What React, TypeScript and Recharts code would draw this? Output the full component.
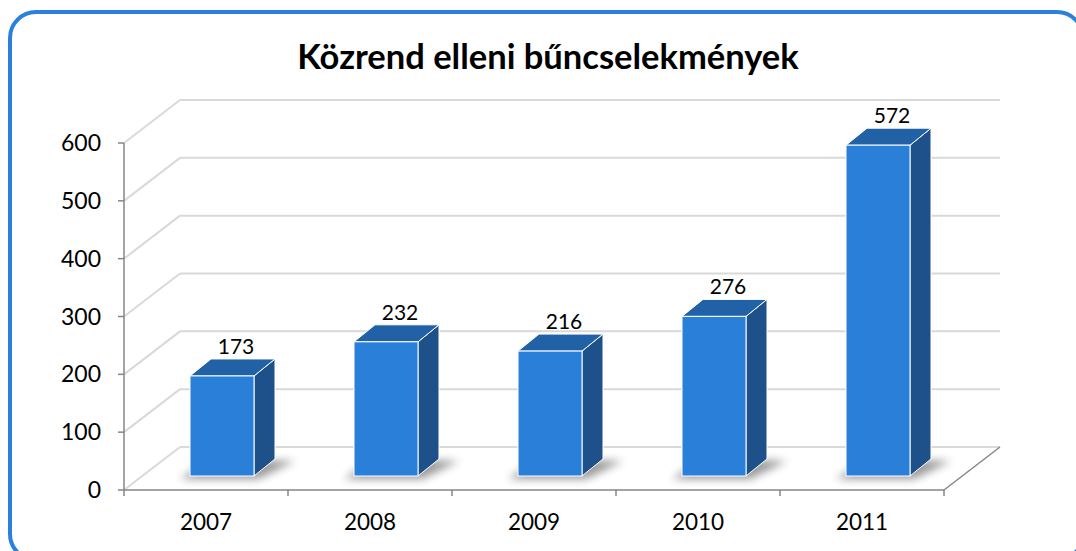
import { BarChart, Bar, XAxis, YAxis, CartesianGrid } from 'recharts';

const years = ['2007', '2008', '2009', '2010', '2011'];
const crimes = [173, 232, 216, 276, 572];
const yTicks = [0, 100, 200, 300, 400, 500, 600];

const data = years.map((year, i) => ({ year, value: crimes[i] }));

// back wall offset (front plane -> back plane)
const WALL_DX = 56;
const WALL_DY = 43;
// bars sit a little behind the front plane
const BAR_SHIFT_X = 16;
const BAR_SHIFT_Y = -14;
// box depth
const BOX_DX = 21;
const BOX_DY = 17;

const FONT = 'Lato, "Open Sans", sans-serif';
const GRID = '#d9d9d9';
const AXIS = '#868686';

const wallLine = (p: any) => {
  const { x1, x2, y1 } = p;
  const bottom = p.y != null && p.height != null ? p.y + p.height : null;
  const isFloor = bottom != null ? Math.abs(y1 - bottom) < 1 : p.index === 0;
  return (
    <g key={p.key ?? `wall-${p.index}`}>
      <line x1={x1} y1={y1} x2={x1 + WALL_DX} y2={y1 - WALL_DY} stroke={GRID} strokeWidth={2} />
      <line
        x1={x1 + WALL_DX}
        y1={y1 - WALL_DY}
        x2={x2 + WALL_DX}
        y2={y1 - WALL_DY}
        stroke={GRID}
        strokeWidth={2}
      />
      {isFloor && (
        <line x1={x2} y1={y1} x2={x2 + WALL_DX} y2={y1 - WALL_DY} stroke={AXIS} strokeWidth={1.5} />
      )}
    </g>
  );
};

const YearTick = (props: any) => {
  const { x, y, payload, width, visibleTicksCount, index } = props;
  const bw = width / visibleTicksCount;
  const left = x - bw / 2;
  const right = x + bw / 2;
  return (
    <g>
      <line x1={left} y1={y} x2={left} y2={y + 6} stroke={AXIS} strokeWidth={1.5} />
      {index === visibleTicksCount - 1 && (
        <line x1={right} y1={y} x2={right} y2={y + 6} stroke={AXIS} strokeWidth={1.5} />
      )}
      <text x={x} y={y + 40} textAnchor="middle" fill="#000" fontSize={22.5} fontFamily={FONT}>
        {payload.value}
      </text>
    </g>
  );
};

const Box3D = (props: any) => {
  const { x, y, width, height, payload } = props;
  if (height == null || height <= 0) return null;
  const fx = x + BAR_SHIFT_X;
  const fy = y + BAR_SHIFT_Y;
  const fr = fx + width;
  const fb = fy + height;
  const top = `${fx},${fy} ${fr},${fy} ${fr + BOX_DX},${fy - BOX_DY} ${fx + BOX_DX},${fy - BOX_DY}`;
  const side = `${fr},${fy} ${fr + BOX_DX},${fy - BOX_DY} ${fr + BOX_DX},${fb - BOX_DY} ${fr},${fb}`;
  const shadow = `${fx - 10},${fb + 3} ${fr + 4},${fb + 3} ${fr + BOX_DX + 20},${fb - BOX_DY + 2} ${fx + BOX_DX},${fb - BOX_DY}`;
  return (
    <g>
      <polygon points={shadow} fill="#000" opacity={0.4} filter="url(#barShadow)" />
      <polygon points={side} fill="#1e5189" stroke="#fff" strokeWidth={1} strokeLinejoin="round" />
      <polygon points={top} fill="#2162a6" stroke="#fff" strokeWidth={1} strokeLinejoin="round" />
      <rect x={fx} y={fy} width={width} height={height} fill="#2a7fd8" stroke="#fff" strokeWidth={1} />
      <text
        x={fx + width / 2 + 14}
        y={fy - 22}
        textAnchor="middle"
        fill="#000"
        fontSize={21}
        fontFamily={FONT}
      >
        {payload.value}
      </text>
    </g>
  );
};

export default function App() {
  return (
    <div
      style={{
        position: 'fixed',
        left: 0,
        top: 0,
        width: 1076,
        height: 551,
        overflow: 'hidden',
        background: '#fff',
      }}
    >
      <div
        style={{
          position: 'absolute',
          left: 8,
          top: 10,
          width: 1077,
          height: 552,
          border: '4.5px solid #2b80dc',
          borderRadius: 28,
          boxSizing: 'border-box',
        }}
      />
      <div
        style={{
          position: 'absolute',
          left: 0,
          top: 34,
          width: 1096,
          textAlign: 'center',
          fontFamily: FONT,
          fontWeight: 700,
          fontSize: 34.5,
          color: '#000',
          lineHeight: '44px',
        }}
      >
        Közrend elleni bűncselekmények
      </div>
      <div style={{ position: 'absolute', left: 0, top: 0 }}>
        <BarChart
          width={1076}
          height={551}
          data={data}
          margin={{ top: 143, right: 132, bottom: 21, left: 64 }}
          barSize={64}
        >
          <defs>
            <filter id="barShadow" x="-50%" y="-100%" width="200%" height="300%">
              <feGaussianBlur stdDeviation="4" />
            </filter>
          </defs>
          <CartesianGrid vertical={false} horizontal={wallLine} />
          <XAxis
            dataKey="year"
            height={40}
            axisLine={{ stroke: AXIS, strokeWidth: 1.5 }}
            tickLine={false}
            tickSize={0}
            tickMargin={0}
            tick={<YearTick />}
            interval={0}
          />
          <YAxis
            width={60}
            domain={[0, 600]}
            ticks={yTicks}
            interval={0}
            axisLine={{ stroke: AXIS, strokeWidth: 1.5 }}
            tickLine={{ stroke: AXIS, strokeWidth: 1.5 }}
            tickSize={6}
            tickMargin={17}
            tick={{ fill: '#000', fontSize: 23, fontFamily: FONT }}
          />
          <Bar dataKey="value" shape={<Box3D />} isAnimationActive={false} />
        </BarChart>
      </div>
    </div>
  );
}
